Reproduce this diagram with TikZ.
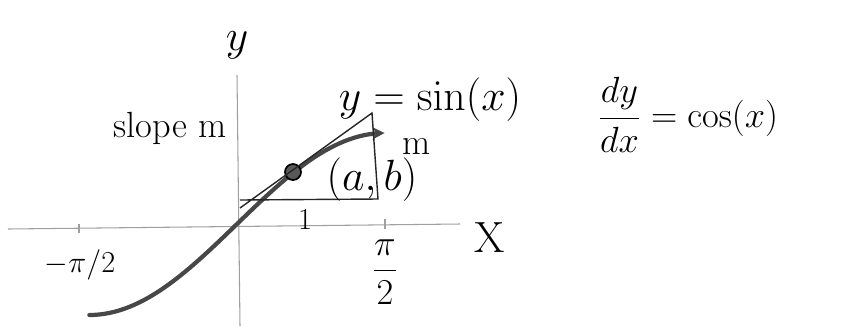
\documentclass[tikz,border=0pt]{standalone}
\usepackage{amsmath}
\usepackage{tikz}
\usetikzlibrary{arrows.meta, positioning}

\begin{document}
\begin{tikzpicture}[>=Stealth, x=0.02cm, y=-0.02cm,
        axis/.style={draw=gray!75, line width=0.6pt},
        curve/.style={draw=black!72, line width=2.4pt, line cap=round},
        thinline/.style={draw=black!85, line width=0.8pt},
        lab/.style={font=\Huge, inner sep=0pt}]
            \useasboundingbox (0,0) rectangle (867,326);

            % 坐标轴
            \draw[axis] (8,229) -- (460,224);
            \draw[axis] (237,75) -- (240,326);
            \draw[axis] (79,224) -- (79,233);
            \draw[axis] (385,219) -- (385,229);

            % 曲线
            \draw[curve, -{Stealth[length=7pt, width=7pt]}] plot[domain=-1.5708:1.5708, samples=60] ({237+94*\x},{224-91*sin(\x r)});
            \node[circle, fill=black!65, draw=black, line width=1pt, inner sep=0pt, minimum size=0.32cm] (point) at (293,172) {};

            % 切线三角形
            \coordinate (apex) at (372,113);
            \coordinate (foot) at (240,208);
            \coordinate (base) at (240,200);
            \coordinate (corner) at (378,199);
            \draw[thinline] (foot) -- (apex) -- (corner) -- (base);

            % 标签
            \node[lab] (ylab) at (237,45) {$y$};
            \node[lab] (xlab) at (490,238) {X};
            \node[lab, font=\huge] (slope) at (170,128) {slope m};
            \node[lab] (func) at (430,100) {$y=\sin(x)$};
            \node[lab, font=\huge] (deriv) at (688,115) {$\dfrac{dy}{dx}=\cos(x)$};
            \node[lab, font=\huge] (mlab) at (417,147) {m};
            \node[lab] (ab) at (372,180) {$(a,b)$};
            \node[lab, font=\LARGE] (one) at (305,220) {$1$};
            \node[lab, font=\LARGE] (neg) at (80,265) {$-\pi/2$};
            \node[lab, font=\huge] (pos) at (385,272) {$\dfrac{\pi}{2}$};
        \end{tikzpicture}
\end{document}
